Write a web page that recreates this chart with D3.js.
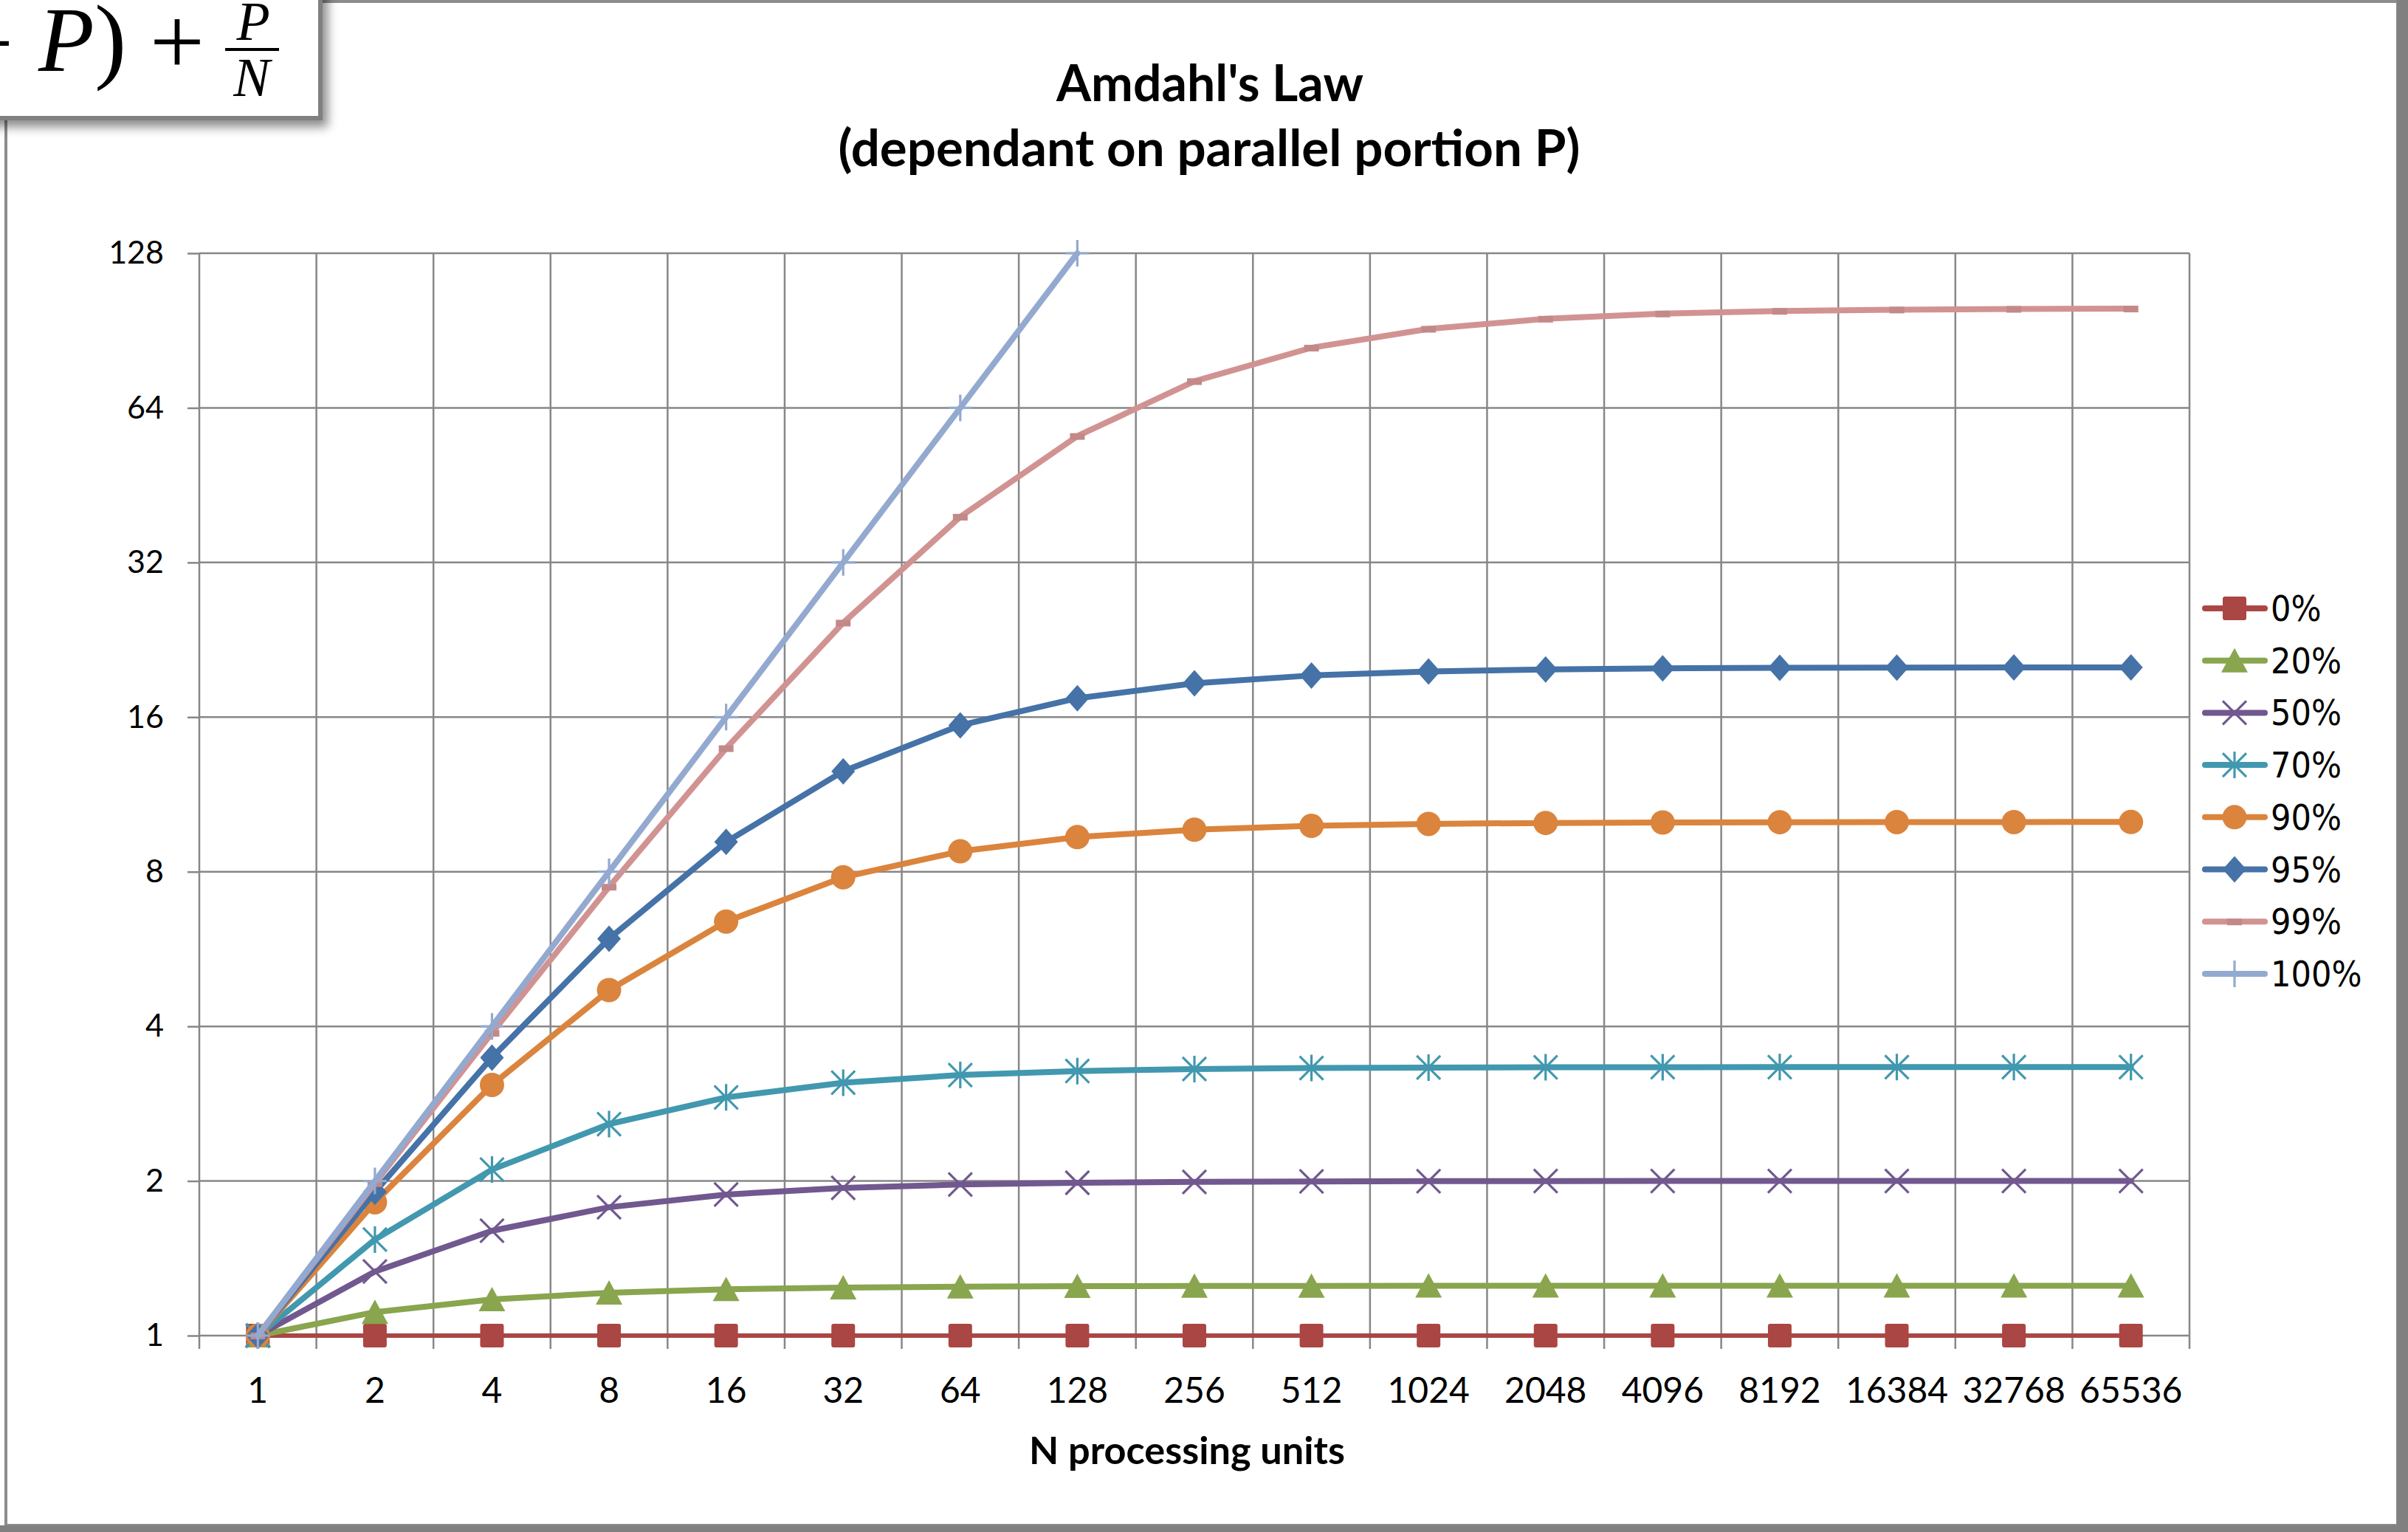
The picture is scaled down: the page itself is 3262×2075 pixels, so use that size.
<!DOCTYPE html>
<html>
<head>
<meta charset="utf-8">
<script src="https://cdn.jsdelivr.net/npm/d3@7"></script>
<style>
  html, body { margin: 0; padding: 0; background: #fff; }
  svg { display: block; }
</style>
</head>
<body>
<svg id="chart" width="3262" height="2075"></svg>
<script>
// ---- data -------------------------------------------------------------
const categories = ["1","2","4","8","16","32","64","128","256","512","1024","2048","4096","8192","16384","32768","65536"];
const seriesNames = ["0%","20%","50%","70%","90%","95%","99%","100%"];

const speedupP0   = [1, 1, 1, 1, 1, 1, 1, 1, 1, 1, 1, 1, 1, 1, 1, 1, 1];
const speedupP20  = [1, 1.111, 1.176, 1.212, 1.231, 1.240, 1.245, 1.248, 1.249, 1.249, 1.250, 1.250, 1.250, 1.250, 1.250, 1.250, 1.250];
const speedupP50  = [1, 1.333, 1.600, 1.778, 1.882, 1.939, 1.969, 1.984, 1.992, 1.996, 1.998, 1.999, 2.000, 2.000, 2.000, 2.000, 2.000];
const speedupP70  = [1, 1.538, 2.105, 2.581, 2.909, 3.107, 3.216, 3.274, 3.303, 3.318, 3.326, 3.329, 3.331, 3.332, 3.333, 3.333, 3.333];
const speedupP90  = [1, 1.818, 3.077, 4.706, 6.400, 7.805, 8.767, 9.343, 9.660, 9.827, 9.913, 9.956, 9.978, 9.989, 9.995, 9.997, 9.999];
const speedupP95  = [1, 1.905, 3.478, 5.926, 9.143, 12.549, 15.422, 17.415, 18.618, 19.284, 19.636, 19.816, 19.908, 19.954, 19.977, 19.988, 19.994];
const speedupP99  = [1, 1.980, 3.883, 7.477, 13.913, 24.427, 39.264, 56.388, 72.113, 83.797, 91.184, 95.389, 97.637, 98.804, 99.399, 99.699, 99.849];
const speedupP100 = [1, 2, 4, 8, 16, 32, 64, 128];

const yTickValues = [1, 2, 4, 8, 16, 32, 64, 128];

const seriesValues = [speedupP0, speedupP20, speedupP50, speedupP70, speedupP90, speedupP95, speedupP99, speedupP100];
const seriesColors = ["#AA4643", "#89A54E", "#71588F", "#4198AF", "#DB843D", "#4572A7", "#D19392", "#93A9CF"];
const markerShapes = ["square", "triangle", "cross", "star", "circle", "diamond", "dash", "plus"];

// ---- layout -----------------------------------------------------------
const W = 3262, H = 2075;
const plot = { left: 270, right: 2966, top: 343, bottom: 1809 };
const gridColor = "#878787";

const svg = d3.select("#chart");

const defs = svg.append("defs");
const shadow = defs.append("filter").attr("id", "boxShadow")
  .attr("x", "-20%").attr("y", "-20%").attr("width", "150%").attr("height", "160%");
shadow.append("feDropShadow").attr("dx", 7).attr("dy", 9).attr("stdDeviation", 7)
  .attr("flood-color", "#000").attr("flood-opacity", 0.45);

// chart frame
svg.append("rect").attr("x", 0).attr("y", 0).attr("width", W).attr("height", H).attr("fill", "#fff");
svg.append("rect").attr("x", 8).attr("y", 2).attr("width", 3240).attr("height", 2064)
  .attr("fill", "none").attr("stroke", "#8c8c8c").attr("stroke-width", 4);
svg.append("rect").attr("x", 3247).attr("y", 0).attr("width", 15).attr("height", H).attr("fill", "#808080");
svg.append("rect").attr("x", 0).attr("y", 2066).attr("width", W).attr("height", 9).attr("fill", "#808080");

// ---- scales -----------------------------------------------------------
const x = d3.scaleBand().domain(categories).range([plot.left, plot.right]).padding(0);
const y = d3.scaleLog().base(2).domain([1, 128]).range([plot.bottom, plot.top]);
const cx = c => x(c) + x.bandwidth() / 2;

// ---- grid -------------------------------------------------------------
const grid = svg.append("g").attr("stroke", gridColor).attr("stroke-width", 2.5);
const boundaries = categories.map(c => x(c)).concat([x.range()[1]]);
grid.selectAll("line.v").data(boundaries).join("line").attr("class", "v")
  .attr("x1", d => d).attr("x2", d => d)
  .attr("y1", plot.top).attr("y2", plot.bottom + 18);
grid.selectAll("line.h").data(yTickValues).join("line").attr("class", "h")
  .attr("x1", plot.left).attr("x2", plot.right)
  .attr("y1", d => y(d)).attr("y2", d => y(d));

// ---- axes -------------------------------------------------------------
const yAxis = svg.append("g").attr("transform", `translate(${plot.left},0)`)
  .call(d3.axisLeft(y).tickValues(yTickValues).tickFormat(d3.format("d")).tickSize(16).tickPadding(32));
yAxis.select(".domain").remove();
yAxis.selectAll(".tick line").attr("stroke", gridColor).attr("stroke-width", 2.5);
yAxis.selectAll(".tick text").attr("font-family", "Lato, 'Open Sans', sans-serif")
  .attr("font-size", 43).attr("fill", "#000");

const xAxis = svg.append("g").attr("transform", `translate(0,${plot.bottom})`)
  .call(d3.axisBottom(x).tickSize(0).tickPadding(57));
xAxis.select(".domain").remove();
xAxis.selectAll(".tick text").attr("font-family", "Lato, 'Open Sans', sans-serif")
  .attr("font-size", 48).attr("fill", "#000");

// ---- markers ----------------------------------------------------------
function drawMarker(g, shape, color) {
  switch (shape) {
    case "square":
      g.append("rect").attr("x", -16).attr("y", -16).attr("width", 32).attr("height", 32)
        .attr("rx", 3).attr("fill", color);
      break;
    case "triangle":
      g.append("path").attr("d", "M0,-17 L18,16 L-18,16 Z").attr("fill", color);
      break;
    case "cross":
      g.append("path").attr("d", "M-16,-16 L16,16 M-16,16 L16,-16")
        .attr("stroke", color).attr("stroke-width", 3.2).attr("fill", "none");
      break;
    case "star":
      g.append("path").attr("d", "M-16,-16 L16,16 M-16,16 L16,-16 M0,-18 L0,18")
        .attr("stroke", color).attr("stroke-width", 3.2).attr("fill", "none");
      break;
    case "circle":
      g.append("circle").attr("r", 16.5).attr("fill", color);
      break;
    case "diamond":
      g.append("path").attr("d", "M0,-18 L16,0 L0,18 L-16,0 Z").attr("fill", color);
      break;
    case "dash":
      g.append("rect").attr("x", -10).attr("y", -4).attr("width", 20).attr("height", 9)
        .attr("fill", d3.color(color).darker(0.2));
      break;
    case "plus":
      g.append("path").attr("d", "M-16,0 L16,0 M0,-18 L0,18")
        .attr("stroke", color).attr("stroke-width", 3.2).attr("fill", "none");
      break;
  }
}

// ---- series -----------------------------------------------------------
const line = d3.line().x(d => cx(d.cat)).y(d => y(d.value));
const seriesLayer = svg.append("g");
seriesNames.forEach((name, i) => {
  const pts = seriesValues[i].map((v, k) => ({ cat: categories[k], value: v }));
  const g = seriesLayer.append("g");
  g.append("path").datum(pts).attr("d", line)
    .attr("fill", "none").attr("stroke", seriesColors[i])
    .attr("stroke-width", i === 0 ? 6 : 8)
    .attr("stroke-linejoin", "round").attr("stroke-linecap", "round");
  pts.forEach(p => {
    const m = g.append("g").attr("transform", `translate(${cx(p.cat)},${y(p.value)})`);
    drawMarker(m, markerShapes[i], seriesColors[i]);
  });
});

// ---- legend -----------------------------------------------------------
const legend = svg.append("g");
seriesNames.forEach((name, i) => {
  const ly = 824 + i * 70.7;
  const g = legend.append("g").attr("transform", `translate(0,${ly})`);
  g.append("line").attr("x1", 2987).attr("x2", 3068).attr("y1", 0).attr("y2", 0)
    .attr("stroke", seriesColors[i]).attr("stroke-width", 8).attr("stroke-linecap", "round");
  drawMarker(g.append("g").attr("transform", "translate(3027,0)"), markerShapes[i], seriesColors[i]);
  g.append("text").attr("x", 3076).attr("y", 17)
    .attr("font-family", "'DejaVu Sans Condensed', 'DejaVu Sans', sans-serif")
    .attr("font-stretch", "condensed")
    .attr("font-size", 48).attr("fill", "#000").text(name);
});

// ---- titles -----------------------------------------------------------
function fitWidth(sel, target) {
  const size = +sel.attr("font-size");
  const len = sel.node().getComputedTextLength();
  if (len > 0) sel.attr("font-size", size * target / len);
  return sel;
}
const titleFont = "Lato, 'Open Sans', sans-serif";
fitWidth(svg.append("text").attr("x", 1639).attr("y", 137).attr("text-anchor", "middle")
  .attr("font-family", titleFont).attr("font-weight", 700).attr("font-size", 64)
  .text("Amdahl's Law"), 416);
fitWidth(svg.append("text").attr("x", 1638).attr("y", 225).attr("text-anchor", "middle")
  .attr("font-family", titleFont).attr("font-weight", 700).attr("font-size", 58)
  .text("(dependant on parallel portion P)"), 1005);
fitWidth(svg.append("text").attr("x", 1608).attr("y", 1983).attr("text-anchor", "middle")
  .attr("font-family", titleFont).attr("font-weight", 700).attr("font-size", 46)
  .text("N processing units"), 428);

// ---- formula box (speedup denominator) --------------------------------
const fbox = svg.append("g");
fbox.append("rect").attr("x", -20).attr("y", -20).attr("width", 454).attr("height", 180)
  .attr("fill", "#fff").attr("stroke", "#808080").attr("stroke-width", 6)
  .attr("filter", "url(#boxShadow)");
const mathFont = "'Liberation Serif', 'DejaVu Serif', serif";
fbox.append("text").attr("x", 18).attr("y", 100).attr("text-anchor", "end")
  .attr("font-family", mathFont).attr("font-size", 124).text("\u2212");
fbox.append("text").attr("x", 52).attr("y", 96)
  .attr("font-family", mathFont).attr("font-style", "italic").attr("font-size", 124).text("P");
fbox.append("text").attr("x", 128).attr("y", 96)
  .attr("font-family", mathFont).attr("font-size", 130).text(")");
fbox.append("text").attr("x", 240).attr("y", 100).attr("text-anchor", "middle")
  .attr("font-family", mathFont).attr("font-size", 132).text("+");
fbox.append("text").attr("x", 343).attr("y", 54).attr("text-anchor", "middle")
  .attr("font-family", mathFont).attr("font-style", "italic").attr("font-size", 74).text("P");
fbox.append("line").attr("x1", 305).attr("x2", 378).attr("y1", 67).attr("y2", 67)
  .attr("stroke", "#000").attr("stroke-width", 4);
fbox.append("text").attr("x", 341).attr("y", 130).attr("text-anchor", "middle")
  .attr("font-family", mathFont).attr("font-style", "italic").attr("font-size", 74).text("N");
</script>
</body>
</html>
